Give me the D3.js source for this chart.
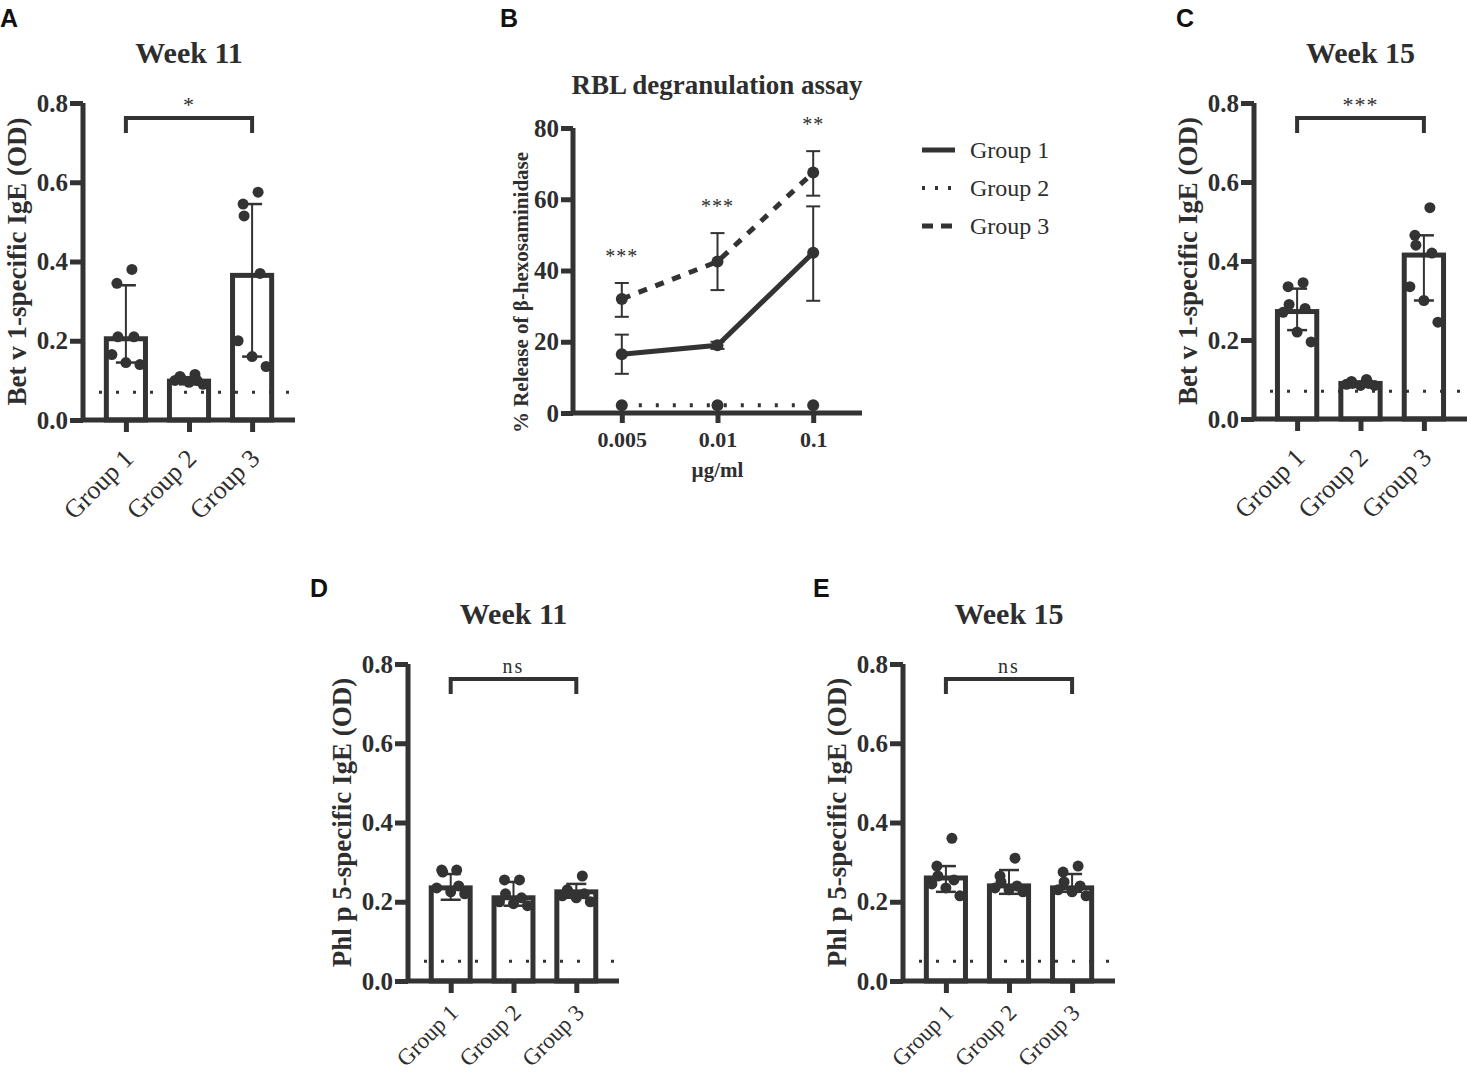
<!DOCTYPE html>
<html>
<head>
<meta charset="utf-8">
<script src="https://cdn.jsdelivr.net/npm/d3@7"></script>
<style>
  body { margin: 0; background: #fff; }
  text { font-family: "Liberation Serif", "Times New Roman", serif; fill: #2e2e2e; }
  .letter { font-family: "Liberation Sans", Arial, sans-serif; font-weight: bold; font-size: 25px; fill: #111; }
</style>
</head>
<body>
<div id="chart"></div>
<script>
/**
 * DATA
 * */
const groups = ["Group 1", "Group 2", "Group 3"];
const odTicks = [0, 0.2, 0.4, 0.6, 0.8];

// A: Bet v 1 week 11
const betW11Mean = [0.205, 0.098, 0.365];
const betW11Lo = [0.145, 0.09, 0.16];
const betW11Hi = [0.34, 0.108, 0.545];
const betW11Pts = [
  [0.38, 0.345, 0.21, 0.21, 0.165, 0.145, 0.14],
  [0.115, 0.11, 0.105, 0.1, 0.1, 0.095, 0.09],
  [0.575, 0.545, 0.515, 0.37, 0.2, 0.16, 0.135]
];

// C: Bet v 1 week 15
const betW15Mean = [0.272, 0.09, 0.415];
const betW15Lo = [0.225, 0.085, 0.30];
const betW15Hi = [0.33, 0.095, 0.465];
const betW15Pts = [
  [0.345, 0.335, 0.29, 0.28, 0.27, 0.22, 0.195],
  [0.1, 0.095, 0.09, 0.09, 0.088, 0.085, 0.085],
  [0.535, 0.465, 0.44, 0.42, 0.335, 0.30, 0.245]
];

// D: Phl p 5 week 11
const phlW11Mean = [0.235, 0.21, 0.225];
const phlW11Lo = [0.205, 0.19, 0.21];
const phlW11Hi = [0.27, 0.25, 0.245];
const phlW11Pts = [
  [0.28, 0.28, 0.275, 0.24, 0.235, 0.225, 0.22],
  [0.255, 0.255, 0.22, 0.21, 0.2, 0.195, 0.19],
  [0.265, 0.23, 0.225, 0.22, 0.215, 0.21, 0.2]
];

// E: Phl p 5 week 15
const phlW15Mean = [0.26, 0.24, 0.235];
const phlW15Lo = [0.225, 0.22, 0.225];
const phlW15Hi = [0.29, 0.28, 0.27];
const phlW15Pts = [
  [0.36, 0.29, 0.265, 0.255, 0.245, 0.235, 0.215],
  [0.31, 0.265, 0.25, 0.24, 0.235, 0.23, 0.225],
  [0.29, 0.275, 0.25, 0.24, 0.23, 0.225, 0.215]
];

// B: RBL degranulation
const doses = ["0.005", "0.01", "0.1"];
const releaseTicks = [0, 20, 40, 60, 80];
const g1Release = [16.5, 19, 45];
const g1Lo = [11, 18, 31.5];
const g1Hi = [22, 20, 58];
const g2Release = [2.2, 2.2, 2.2];
const g3Release = [32, 42.5, 67.5];
const g3Lo = [27, 34.5, 61];
const g3Hi = [36.5, 50.5, 73.5];
const doseStars = ["***", "***", "**"];

/**
 * CONSTANTS
 * */
const width = 1467, height = 1072;
const ink = "#333";
const jitter = [6, -9, -8, 8, -14, 0, 14];

const svg = d3.select("#chart").append("svg")
  .attr("width", width)
  .attr("height", height);

/**
 * BAR PANEL
 * */
function barPanel(o) {
  const g = svg.append("g");
  const x = d3.scalePoint().domain(groups).range([o.x0, o.x1]).padding(0.68);
  const y = d3.scaleLinear().domain([0, 0.8]).range([o.y0, o.y1]);
  const bw = x.step() * 0.62;

  // dotted cutoff line
  g.append("line")
    .attr("x1", o.x0 + 16).attr("x2", o.x1)
    .attr("y1", y(o.cutoff)).attr("y2", y(o.cutoff))
    .attr("stroke", ink).attr("stroke-width", 3)
    .attr("stroke-dasharray", "3,14");

  // bars
  g.selectAll("rect.bar")
    .data(o.mean)
    .join("rect")
    .attr("class", "bar")
    .attr("x", (d, i) => x(groups[i]) - bw / 2)
    .attr("y", d => y(d))
    .attr("width", bw)
    .attr("height", d => y(0) - y(d))
    .attr("fill", "none")
    .attr("stroke", ink)
    .attr("stroke-width", 5);

  // points
  o.pts.forEach((arr, i) => {
    g.selectAll(null)
      .data(arr)
      .join("circle")
      .attr("cx", (d, j) => x(groups[i]) + jitter[j % jitter.length])
      .attr("cy", d => y(d))
      .attr("r", 5.5)
      .attr("fill", ink);
  });

  // error bars
  o.mean.forEach((m, i) => {
    const cx = x(groups[i]);
    g.append("line")
      .attr("x1", cx).attr("x2", cx)
      .attr("y1", y(o.lo[i])).attr("y2", y(o.hi[i]))
      .attr("stroke", ink).attr("stroke-width", 2);
    [o.lo[i], o.hi[i]].forEach(v => {
      g.append("line")
        .attr("x1", cx - 10).attr("x2", cx + 10)
        .attr("y1", y(v)).attr("y2", y(v))
        .attr("stroke", ink).attr("stroke-width", 2.5);
    });
  });

  // axes
  const yAxis = d3.axisLeft(y).tickValues(odTicks).tickFormat(d3.format(".1f")).tickSize(13).tickPadding(2);
  const ya = g.append("g").attr("transform", `translate(${o.x0},0)`).call(yAxis);
  const xAxis = d3.axisBottom(x).tickSize(12).tickFormat("");
  const xa = g.append("g").attr("transform", `translate(0,${o.y0})`).call(xAxis);
  [ya, xa].forEach(a => {
    a.select(".domain").attr("stroke", ink).attr("stroke-width", 5);
    a.selectAll(".tick line").attr("stroke", ink).attr("stroke-width", 5);
  });
  xa.select(".domain").attr("d", `M${o.x0},0H${o.x1}`);
  ya.select(".domain").attr("d", `M0,${o.y0}V${o.y1}`);
  ya.selectAll(".tick text")
    .attr("font-family", "Liberation Serif").attr("font-weight", "bold")
    .attr("font-size", 25).attr("fill", ink);

  // rotated group labels
  g.selectAll("text.grp")
    .data(groups)
    .join("text")
    .attr("class", "grp")
    .attr("transform", d => `translate(${x(d) + 9},${o.y0 + o.gOff}) rotate(-45)`)
    .attr("text-anchor", "end")
    .attr("font-size", o.gSize)
    .text(d => d);

  // y label
  g.append("text")
    .attr("transform", `translate(${o.x0 - 57},${(o.y0 + o.y1) / 2}) rotate(-90)`)
    .attr("text-anchor", "middle")
    .attr("font-weight", "bold")
    .attr("font-size", 27)
    .text(o.ylabel);

  // title
  g.append("text")
    .attr("x", x(groups[1])).attr("y", o.y1 - 40)
    .attr("text-anchor", "middle")
    .attr("font-weight", "bold")
    .attr("font-size", 30)
    .text(o.title);

  // bracket
  const by = y(0.762), bd = y(0.724);
  g.append("path")
    .attr("d", `M${x(groups[0])},${bd}V${by}H${x(groups[2])}V${bd}`)
    .attr("fill", "none").attr("stroke", ink).attr("stroke-width", 4);
  g.append("text")
    .attr("x", x(groups[1])).attr("y", by - 6)
    .attr("text-anchor", "middle")
    .attr("font-size", o.sig === "ns" ? 20 : 22)
    .attr("letter-spacing", o.sig === "ns" ? 2 : 1)
    .text(o.sig);

  // panel letter
  svg.append("text").attr("class", "letter")
    .attr("x", o.lx).attr("y", o.ly).text(o.letter);
}

barPanel({ x0: 83, x1: 295, y0: 420, y1: 103, mean: betW11Mean, lo: betW11Lo, hi: betW11Hi, pts: betW11Pts,
  cutoff: 0.07, title: "Week 11", ylabel: "Bet v 1-specific IgE (OD)", sig: "*", letter: "A", lx: 0, ly: 27,
  gOff: 40, gSize: 26 });
barPanel({ x0: 1254, x1: 1467, y0: 419, y1: 103, mean: betW15Mean, lo: betW15Lo, hi: betW15Hi, pts: betW15Pts,
  cutoff: 0.07, title: "Week 15", ylabel: "Bet v 1-specific IgE (OD)", sig: "***", letter: "C", lx: 1176, ly: 27,
  gOff: 40, gSize: 26 });
barPanel({ x0: 408, x1: 619, y0: 981, y1: 664, mean: phlW11Mean, lo: phlW11Lo, hi: phlW11Hi, pts: phlW11Pts,
  cutoff: 0.05, title: "Week 11", ylabel: "Phl p 5-specific IgE (OD)", sig: "ns", letter: "D", lx: 310, ly: 597,
  gOff: 33, gSize: 23 });
barPanel({ x0: 903, x1: 1115, y0: 981, y1: 664, mean: phlW15Mean, lo: phlW15Lo, hi: phlW15Hi, pts: phlW15Pts,
  cutoff: 0.05, title: "Week 15", ylabel: "Phl p 5-specific IgE (OD)", sig: "ns", letter: "E", lx: 813, ly: 597,
  gOff: 33, gSize: 23 });

/**
 * LINE PANEL (B)
 * */
(function linePanel() {
  const g = svg.append("g");
  const x0 = 573, x1 = 862, y0 = 413, y1 = 128;
  const x = d3.scalePoint().domain(doses).range([x0, x1]).padding(0.51);
  const y = d3.scaleLinear().domain([0, 80]).range([y0, y1]);

  const series = [
    { vals: g1Release, lo: g1Lo, hi: g1Hi, dash: null, name: "Group 1" },
    { vals: g2Release, lo: null, hi: null, dash: "3,14", name: "Group 2" },
    { vals: g3Release, lo: g3Lo, hi: g3Hi, dash: "9,9", name: "Group 3" }
  ];
  const line = d3.line().x((d, i) => x(doses[i])).y(d => y(d));

  series.forEach(s => {
    g.append("path")
      .attr("d", line(s.vals))
      .attr("fill", "none").attr("stroke", ink)
      .attr("stroke-width", s.dash === "3,14" ? 4 : 5)
      .attr("stroke-dasharray", s.dash);
    if (s.lo) {
      s.vals.forEach((v, i) => {
        const cx = x(doses[i]);
        g.append("line").attr("x1", cx).attr("x2", cx)
          .attr("y1", y(s.lo[i])).attr("y2", y(s.hi[i]))
          .attr("stroke", ink).attr("stroke-width", 2);
        [s.lo[i], s.hi[i]].forEach(e => {
          g.append("line").attr("x1", cx - 7).attr("x2", cx + 7)
            .attr("y1", y(e)).attr("y2", y(e))
            .attr("stroke", ink).attr("stroke-width", 2);
        });
      });
    }
    g.selectAll(null).data(s.vals).join("circle")
      .attr("cx", (d, i) => x(doses[i])).attr("cy", d => y(d))
      .attr("r", 6).attr("fill", ink);
  });

  // significance stars
  g.selectAll("text.star").data(doseStars).join("text")
    .attr("class", "star")
    .attr("x", (d, i) => x(doses[i]))
    .attr("y", (d, i) => y(Math.max(g1Hi[i], g3Hi[i])) - 20)
    .attr("text-anchor", "middle")
    .attr("font-size", 20)
    .attr("letter-spacing", 1)
    .text(d => d);

  const yAxis = d3.axisLeft(y).tickValues(releaseTicks).tickSize(12).tickPadding(2);
  const ya = g.append("g").attr("transform", `translate(${x0},0)`).call(yAxis);
  const xa = g.append("g").attr("transform", `translate(0,${y0})`)
    .call(d3.axisBottom(x).tickSize(10).tickPadding(8));
  [ya, xa].forEach(a => {
    a.select(".domain").attr("stroke", ink).attr("stroke-width", 5);
    a.selectAll(".tick line").attr("stroke", ink).attr("stroke-width", 5);
    a.selectAll(".tick text")
      .attr("font-family", "Liberation Serif").attr("font-weight", "bold").attr("fill", ink);
  });
  ya.selectAll(".tick text").attr("font-size", 25);
  xa.selectAll(".tick text").attr("font-size", 22);
  xa.select(".domain").attr("d", `M${x0},0H${x1}`);
  ya.select(".domain").attr("d", `M0,${y0}V${y1}`);

  g.append("text")
    .attr("x", x(doses[1])).attr("y", 477)
    .attr("text-anchor", "middle").attr("font-weight", "bold").attr("font-size", 21)
    .text("µg/ml");
  g.append("text")
    .attr("transform", `translate(528,${(y0 + y1) / 2 + 22}) rotate(-90)`)
    .attr("text-anchor", "middle").attr("font-weight", "bold").attr("font-size", 21)
    .text("% Release of β-hexosaminidase");
  g.append("text")
    .attr("x", 717).attr("y", 94)
    .attr("text-anchor", "middle").attr("font-weight", "bold").attr("font-size", 27)
    .text("RBL degranulation assay");

  // legend
  const lg = g.selectAll("g.leg").data(series).join("g")
    .attr("class", "leg")
    .attr("transform", (d, i) => `translate(922,${150 + i * 38})`);
  lg.append("line").attr("x1", 0).attr("x2", 33)
    .attr("stroke", ink)
    .attr("stroke-width", d => d.dash === "3,14" ? 4 : 5)
    .attr("stroke-dasharray", d => d.dash === "3,14" ? "3,10" : d.dash === "9,9" ? "11,8" : null);
  lg.append("text").attr("x", 48).attr("y", 8)
    .attr("font-size", 24)
    .text(d => d.name);

  svg.append("text").attr("class", "letter").attr("x", 500).attr("y", 27).text("B");
})();
</script>
</body>
</html>
